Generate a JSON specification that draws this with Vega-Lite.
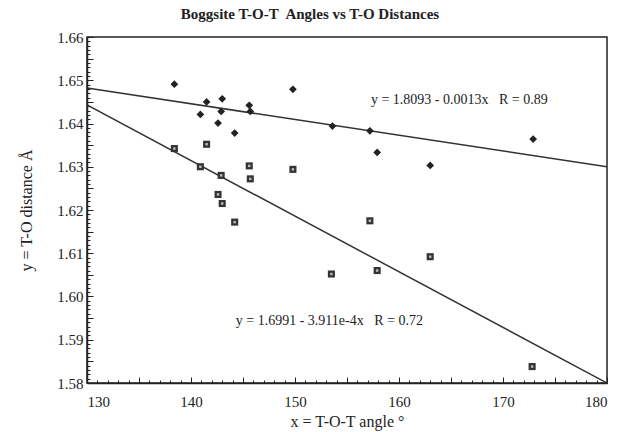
{
  "$schema": "https://vega.github.io/schema/vega-lite/v6.json",
  "width": 520,
  "height": 346,
  "autosize": {"type": "none"},
  "padding": {"left": 87, "top": 37, "right": 14, "bottom": 49},
  "background": "white",
  "config": {
    "view": {"stroke": "#222", "strokeWidth": 1.5},
    "font": "Liberation Serif",
    "axis": {
      "grid": false,
      "domainColor": "#222",
      "domainWidth": 1.5,
      "labelColor": "#222",
      "titleColor": "#222",
      "labelFont": "Liberation Serif",
      "titleFont": "Liberation Serif",
      "labelFontSize": 15,
      "titleFontSize": 16,
      "titleFontWeight": "normal",
      "labelOverlap": false
    }
  },
  "title": {
    "text": "Boggsite T-O-T\u00a0 Angles vs T-O Distances",
    "font": "Liberation Serif",
    "fontSize": 15,
    "fontWeight": "bold",
    "color": "#222",
    "dx": -37,
    "offset": 8
  },
  "datasets": {
    "points": [
      {"angle": 138.4, "dist": 1.6491, "series": "diamond"},
      {"angle": 141.5, "dist": 1.6450, "series": "diamond"},
      {"angle": 143.0, "dist": 1.6457, "series": "diamond"},
      {"angle": 140.9, "dist": 1.6421, "series": "diamond"},
      {"angle": 142.9, "dist": 1.6428, "series": "diamond"},
      {"angle": 142.6, "dist": 1.6401, "series": "diamond"},
      {"angle": 144.2, "dist": 1.6378, "series": "diamond"},
      {"angle": 145.6, "dist": 1.6442, "series": "diamond"},
      {"angle": 145.7, "dist": 1.6428, "series": "diamond"},
      {"angle": 149.8, "dist": 1.6479, "series": "diamond"},
      {"angle": 153.6, "dist": 1.6394, "series": "diamond"},
      {"angle": 157.2, "dist": 1.6383, "series": "diamond"},
      {"angle": 157.9, "dist": 1.6333, "series": "diamond"},
      {"angle": 163.0, "dist": 1.6303, "series": "diamond"},
      {"angle": 172.9, "dist": 1.6364, "series": "diamond"},
      {"angle": 138.4, "dist": 1.6342, "series": "square"},
      {"angle": 141.5, "dist": 1.6352, "series": "square"},
      {"angle": 140.9, "dist": 1.6300, "series": "square"},
      {"angle": 142.9, "dist": 1.6280, "series": "square"},
      {"angle": 145.6, "dist": 1.6302, "series": "square"},
      {"angle": 145.7, "dist": 1.6272, "series": "square"},
      {"angle": 149.8, "dist": 1.6294, "series": "square"},
      {"angle": 142.6, "dist": 1.6236, "series": "square"},
      {"angle": 143.0, "dist": 1.6215, "series": "square"},
      {"angle": 144.2, "dist": 1.6172, "series": "square"},
      {"angle": 157.2, "dist": 1.6175, "series": "square"},
      {"angle": 153.5, "dist": 1.6052, "series": "square"},
      {"angle": 157.9, "dist": 1.6060, "series": "square"},
      {"angle": 163.0, "dist": 1.6092, "series": "square"},
      {"angle": 172.8, "dist": 1.5838, "series": "square"}
    ],
    "fits": [
      {"fit": "upper", "angle": 130, "dist": 1.6482},
      {"fit": "upper", "angle": 180, "dist": 1.6300},
      {"fit": "lower", "angle": 130, "dist": 1.6443},
      {"fit": "lower", "angle": 180, "dist": 1.5800}
    ],
    "notes": [
      {"angle": 165.8, "dist": 1.6454, "label": "y = 1.8093 - 0.0013x \u00a0 R = 0.89"},
      {"angle": 153.3, "dist": 1.5944, "label": "y = 1.6991 - 3.911e-4x \u00a0 R = 0.72"}
    ]
  },
  "encoding": {
    "x": {
      "field": "angle",
      "type": "quantitative",
      "scale": {"domain": [130, 180], "nice": false, "zero": false},
      "axis": {
        "title": "x = T-O-T angle °",
        "ticks": true,
        "tickColor": "#222",
        "tickOpacity": 1,
        "tickWidth": 1,
        "tickCount": 50,
        "labelExpr": "round(datum.value) % 10 === 0 ? format(datum.value, 'd') : ''",
        "tickSize": {"condition": {"test": "round(datum.value) % 5 === 0", "value": -6}, "value": -3},
        "labelPadding": 17,
        "titlePadding": 1
      }
    },
    "y": {
      "field": "dist",
      "type": "quantitative",
      "scale": {"domain": [1.58, 1.66], "nice": false, "zero": false},
      "axis": {
        "title": "y = T-O distance Å",
        "ticks": true,
        "tickColor": "#222",
        "tickOpacity": 1,
        "tickWidth": 1,
        "tickCount": 80,
        "labelExpr": "round(datum.value * 1000) % 10 === 0 ? format(datum.value, '.2f') : ''",
        "tickSize": {"condition": {"test": "round(datum.value * 1000) % 5 === 0", "value": -6}, "value": -3},
        "labelPadding": 10,
        "titlePadding": 22
      }
    }
  },
  "layer": [
    {
      "data": {"name": "fits"},
      "mark": {"type": "line", "color": "#333", "strokeWidth": 1.5, "clip": true},
      "encoding": {"detail": {"field": "fit"}}
    },
    {
      "data": {"name": "points"},
      "transform": [{"filter": "datum.series === 'diamond'"}],
      "mark": {"type": "point", "shape": "diamond", "filled": true, "color": "#222", "size": 60, "opacity": 1}
    },
    {
      "data": {"name": "points"},
      "transform": [{"filter": "datum.series === 'square'"}],
      "mark": {"type": "point", "shape": "square", "filled": true, "color": "#333", "size": 50, "opacity": 1}
    },
    {
      "data": {"name": "points"},
      "transform": [{"filter": "datum.series === 'square'"}],
      "mark": {"type": "point", "shape": "square", "filled": true, "color": "#bbb", "size": 6, "opacity": 1}
    },
    {
      "data": {"name": "notes"},
      "mark": {"type": "text", "font": "Liberation Serif", "fontSize": 14, "color": "#222", "align": "center", "baseline": "middle"},
      "encoding": {"text": {"field": "label"}}
    }
  ]
}
